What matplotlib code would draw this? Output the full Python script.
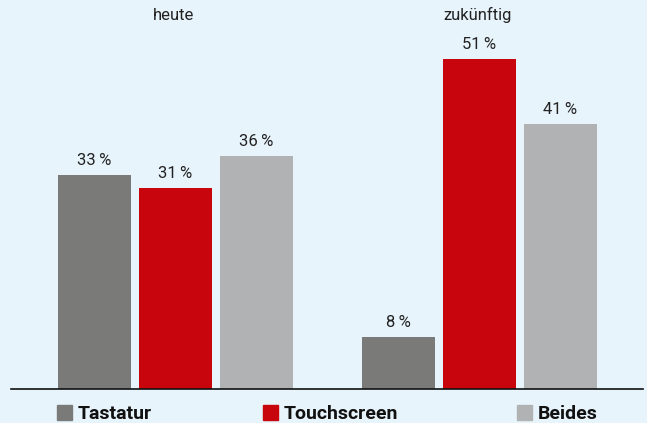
import matplotlib
matplotlib.use("Agg")
import matplotlib.pyplot as plt
from matplotlib.patches import Rectangle
from matplotlib.transforms import blended_transform_factory

groups = ["heute", "zukünftig"]
series = ["Tastatur", "Touchscreen", "Beides"]
values = {
    "Tastatur": [33, 8],
    "Touchscreen": [31, 51],
    "Beides": [36, 41],
}
colors = {"Tastatur": "#7a7a78", "Touchscreen": "#c8050c", "Beides": "#b1b2b3"}
bg = "#e8f4fc"

W, H = 647, 423
fig = plt.figure(figsize=(W / 100, H / 100), dpi=100, facecolor=bg)
base_px = 389
ax = fig.add_axes([11 / W, (H - base_px) / H, (643 - 11) / W, base_px / H])
ax.set_facecolor(bg)
ppu = 304.0
ax.set_xlim((11 - 175.5) / ppu, (643 - 175.5) / ppu)
ax.set_ylim(0, base_px / 6.47)

bw = 73 / ppu
step = 81 / ppu
font = "Roboto"
for i, s in enumerate(series):
    xs = [g + (i - 1) * step for g in range(len(groups))]
    ax.bar(xs, values[s], width=bw, color=colors[s], zorder=2)
    for x, v in zip(xs, values[s]):
        ax.annotate(f"{v}\u2009%", (x, v), xytext=(0, 7.2), textcoords="offset points",
                    ha="center", va="baseline", fontsize=12, family=font, color="#222222")

tr = blended_transform_factory(ax.transData, fig.transFigure)
for gi, g in enumerate(groups):
    ax.text(gi - 2 / ppu, (H - 20) / H, g, transform=tr, ha="center", va="baseline",
            fontsize=12, family=font, color="#222222")

for sp in ["top", "right", "left"]:
    ax.spines[sp].set_visible(False)
ax.spines["bottom"].set_color("#111111")
ax.spines["bottom"].set_linewidth(1.2)
ax.set_xticks([])
ax.set_yticks([])

# legend
leg_x = [57, 263, 517]
for s, lx in zip(series, leg_x):
    fig.patches.append(Rectangle((lx / W, (H - 420) / H), 15 / W, 15 / H,
                                 transform=fig.transFigure, color=colors[s]))
    fig.text((lx + 21) / W, (H - 419) / H, s, ha="left", va="baseline",
             fontsize=14, fontweight="bold", family=font, color="#111111")

fig.savefig("out.png", dpi=100, facecolor=bg)
